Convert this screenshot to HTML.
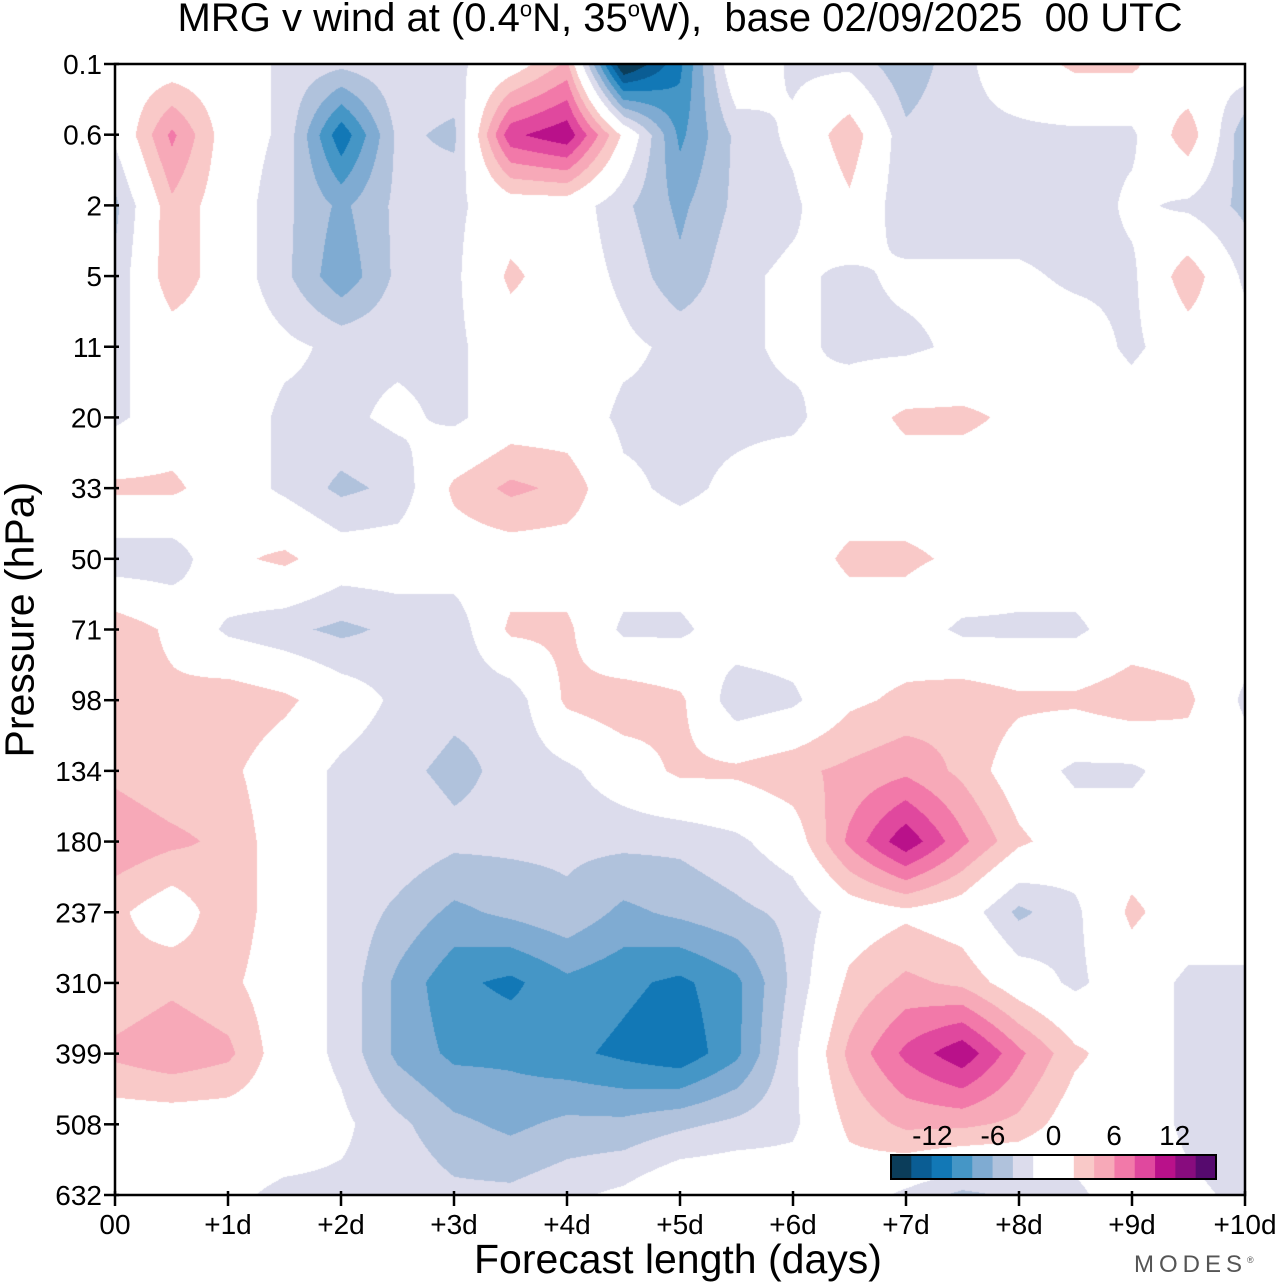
<!DOCTYPE html>
<html><head><meta charset="utf-8"><style>
body{margin:0;background:#fff;width:1280px;height:1286px;overflow:hidden;font-family:"Liberation Sans",sans-serif;position:relative}
.t{position:absolute;color:#000;white-space:nowrap}
</style></head><body>
<div class="t" style="left:0;width:1360px;text-align:center;top:-4px;font-size:40px">MRG v wind at (0.4<sup style="font-size:22px">o</sup>N, 35<sup style="font-size:22px">o</sup>W),&nbsp; base 02/09/2025&nbsp; 00 UTC</div>
<canvas id="cv" width="1130" height="1131" style="position:absolute;left:115px;top:64px"></canvas>
<svg id="ax" width="1280" height="1286" style="position:absolute;left:0;top:0"></svg>
<div class="t" style="left:474px;top:1236px;font-size:41px">Forecast length (days)</div>
<div class="t" style="left:-110px;top:604px;font-size:41px;transform:rotate(-90deg);transform-origin:center;width:260px;text-align:center">Pressure (hPa)</div>
<div class="t" style="left:1134px;top:1251px;font-size:24px;letter-spacing:5px;color:#555">MODES<sup style="font-size:9px">®</sup></div>
<script>
const days=[0,0.5,1,1.5,2,2.5,3,3.5,4,4.5,5,5.5,6,6.5,7,7.5,8,8.5,9,9.5,10];
const levels=["0.1","0.6","2","5","11","20","33","50","71","98","134","180","237","310","399","508","632"];
const xTicks=["00","+1d","+2d","+3d","+4d","+5d","+6d","+7d","+8d","+9d","+10d"];
const cbLabels=["-12","-6","0","6","12"];
const cbLabelValues=[-12,-6,0,6,12];
const v0=[0,0,0,-2,-3,-2,-2,0,4,-16,-10,1,-2,-2,-5,-2,0,2,2,-1,0];
const v1=[-1,6,0,-2,-11,-3,-4,9,11,1,-8,-3,-1,3,-3,-2,-2,-2,-2,3,-5];
const v2=[-4,3,0,-3,-6,-3,-2,0,0,-3,-6,-3,-2,1,-3,-3,-3,-3,-1,-2,-4];
const v3=[-3,3,0,-3,-7,-3,-2,2,0,-2,-5,-2,-1,-2,-1,-1,-1,-2,-2,3,-2];
const v4=[-2,0,0,-1,-2,-2,-2,0,0,-1,-2,-2,-1,-2,-2,-1,0,0,-2,0,0];
const v5=[-2,0,0,-2,-2,-1,-2,0,0,-2,-2,-2,-2,0,2,2,1,0,0,1,0];
const v6=[2,2,0,-2,-4,-3,2,4,3,-1,-2,-1,0,0,0,0,0,0,0,0,0];
const v7=[-3,-3,1,2,0,0,0,0,0,0,0,0,0,2,2,1,0,0,0,0,0];
const v8=[3,1,-2,-3,-4,-3,-3,2,2,-2,-2,0,0,0,0,-2,-2,-2,0,0,0];
const v9=[2,2,3,2,0,-2,-3,-3,2,3,2,-3,-2,1,2,3,2,2,3,2,-2];
const v10=[3,2,2,0,-2,-3,-4,-3,-2,0,2,2,3,4,5,3,0,-2,-2,0,0];
const v11=[5,4,3,0,-2,-2,-3,-3,-3,-3,-3,-2,0,6,11,6,2,0,0,0,0];
const v12=[2,0,3,0,-2,-4,-6,-5,-4,-6,-5,-4,-3,0,1,0,-4,-2,2,0,0];
const v13=[2,3,2,0,-2,-6,-9,-10,-8,-9,-10,-8,-3,2,4,3,0,-2,0,-2,-2];
const v14=[4,5,4,0,-2,-6,-8,-8,-9,-10,-11,-8,-2,4,8,11,6,2,0,-2,-2];
const v15=[0,0,0,0,-1,-3,-5,-6,-5,-5,-4,-3,-2,2,4,4,3,0,0,-2,-3];
const v16=[0,0,-1,-2,-2,-2,-3,-3,-2,-1,1,1,0,0,-2,-4,-3,-2,0,-1,-2];
const grid=[v0,v1,v2,v3,v4,v5,v6,v7,v8,v9,v10,v11,v12,v13,v14,v15,v16];
const colors=["#0b3d5a","#0a5d94","#1278b6","#4596c6","#7fabd2","#b0c2dc","#dcdcec","#ffffff","#ffffff","#f9c9c8","#f7a9b8","#f279a9","#e0489e","#b9118a","#880c7e","#560a6e"];
const X0=115,X1=1245,Y0=64,Y1=1195;
const ys=i=>Y0+i/(levels.length-1)*(Y1-Y0);
function colorIdx(v){const k=Math.sign(v)*Math.floor((Math.abs(v)+0.5)/2);if(k<0)return Math.max(0,7+k);if(k===0)return 7;return Math.min(15,8+k);}
function hex(h){return [parseInt(h.substr(1,2),16),parseInt(h.substr(3,2),16),parseInt(h.substr(5,2),16)];}
const rgb=colors.map(hex);
const cv=document.getElementById('cv'),ctx=cv.getContext('2d');
const W=cv.width,H=cv.height,img=ctx.createImageData(W,H);
const nc=days.length-1,nr=levels.length-1;
for(let py=0;py<H;py++){const fy=py/(H-1)*nr;let r=Math.min(nr-1,Math.floor(fy));const ty=fy-r;
 for(let px=0;px<W;px++){const fx=px/(W-1)*nc;let c=Math.min(nc-1,Math.floor(fx));const tx=fx-c;
  const a=grid[r][c],b=grid[r][c+1],d=grid[r+1][c],e=grid[r+1][c+1];
  const v=(a*(1-tx)+b*tx)*(1-ty)+(d*(1-tx)+e*tx)*ty;
  const col=rgb[colorIdx(v)];const o=(py*W+px)*4;img.data[o]=col[0];img.data[o+1]=col[1];img.data[o+2]=col[2];img.data[o+3]=255;}}
ctx.putImageData(img,0,0);
const svg=document.getElementById('ax'),NS="http://www.w3.org/2000/svg";
function mk(t,at,p){const e=document.createElementNS(NS,t);for(const k in at)e.setAttribute(k,at[k]);(p||svg).appendChild(e);return e;}
const frame=mk('rect',{x:X0,y:Y0,width:X1-X0,height:Y1-Y0,fill:'none',stroke:'#000','stroke-width':2.5});


levels.forEach((l,i)=>{const y=ys(i);
 const tk=mk('line',{x1:X0-11,x2:X0+4,y1:y,y2:y,stroke:'#000','stroke-width':2.5});
 
 
 const t=mk('text',{x:X0-13,y:y+10,'text-anchor':'end','font-size':28,'font-family':'Liberation Sans'});t.textContent=l;
 
 });
xTicks.forEach((l,i)=>{const x=X0+i*(X1-X0)/(xTicks.length-1);
 const tk=mk('line',{x1:x,x2:x,y1:Y1-4,y2:Y1+11,stroke:'#000','stroke-width':2.5});
 
 
 const t=mk('text',{x:x,y:Y1+39,'text-anchor':'middle','font-size':28,'font-family':'Liberation Sans'});t.textContent=l;
 
 });
const CB0=891,CB1=1216,CBY=1155,CBH=24,sw=(CB1-CB0)/colors.length;
colors.forEach((c,i)=>{const r=mk('rect',{x:CB0+i*sw,y:CBY,width:sw+0.5,height:CBH,fill:c});
 
 });
const cbf=mk('rect',{x:CB0,y:CBY,width:CB1-CB0,height:CBH,fill:'none',stroke:'#000','stroke-width':2});


const cbx=v=>(CB0+CB1)/2+v*10.1;
cbLabels.forEach((l,i)=>{const t=mk('text',{x:cbx(cbLabelValues[i]),y:CBY-10,'text-anchor':'middle','font-size':28,'font-family':'Liberation Sans'});t.textContent=l;
 
 });
</script>
</body></html>
